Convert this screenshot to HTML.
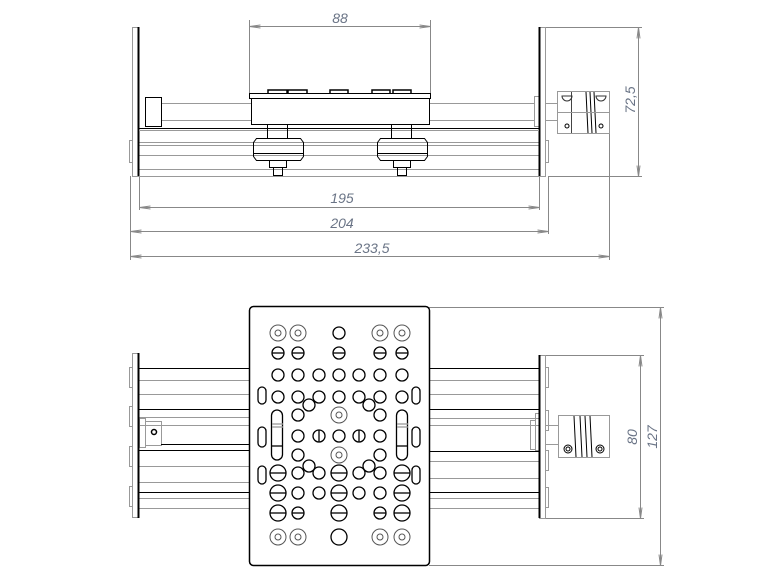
<!DOCTYPE html>
<html><head><meta charset="utf-8"><style>
html,body{margin:0;padding:0;background:#fff;}
svg{display:block;}
text{font-family:"Liberation Sans",sans-serif;font-style:italic;fill:#6a7486;font-size:14px;}
</style></head><body>
<svg id="s" width="780" height="586" viewBox="0 0 780 586" xmlns="http://www.w3.org/2000/svg">
<defs>
<marker id="ar" markerWidth="12" markerHeight="6" refX="11" refY="3" orient="auto" markerUnits="userSpaceOnUse"><path d="M0,1.5 L11,3 L0,4.5" fill="none" stroke="#888" stroke-width="1"/></marker>
<marker id="al" markerWidth="12" markerHeight="6" refX="1" refY="3" orient="auto" markerUnits="userSpaceOnUse"><path d="M12,1.5 L1,3 L12,4.5" fill="none" stroke="#888" stroke-width="1"/></marker>
</defs>
<g fill="none" stroke="#888" stroke-width="1">
<line x1="249.5" y1="20" x2="249.5" y2="94"/><line x1="430.5" y1="20" x2="430.5" y2="94"/>
<line x1="249.5" y1="26.5" x2="430.5" y2="26.5" marker-start="url(#al)" marker-end="url(#ar)"/>
<line x1="545" y1="27.5" x2="642" y2="27.5"/><line x1="548" y1="176.5" x2="642" y2="176.5"/>
<line x1="638.5" y1="27.5" x2="638.5" y2="176.5" marker-start="url(#al)" marker-end="url(#ar)"/>
<line x1="130.5" y1="176" x2="130.5" y2="260"/><line x1="139.5" y1="176" x2="139.5" y2="210"/>
<line x1="539.5" y1="176" x2="539.5" y2="210"/><line x1="548.5" y1="176" x2="548.5" y2="234"/>
<line x1="609.5" y1="133" x2="609.5" y2="260"/>
<line x1="139.5" y1="207.5" x2="539.5" y2="207.5" marker-start="url(#al)" marker-end="url(#ar)"/>
<line x1="130.5" y1="231.5" x2="548.5" y2="231.5" marker-start="url(#al)" marker-end="url(#ar)"/>
<line x1="130.5" y1="256.5" x2="609.5" y2="256.5" marker-start="url(#al)" marker-end="url(#ar)"/>
<line x1="429" y1="307.5" x2="664" y2="307.5"/><line x1="429" y1="565.5" x2="664" y2="565.5"/>
<line x1="545" y1="355.5" x2="644" y2="355.5"/><line x1="545" y1="518.5" x2="644" y2="518.5"/>
<line x1="640.5" y1="355.5" x2="640.5" y2="518.5" marker-start="url(#al)" marker-end="url(#ar)"/>
<line x1="660.5" y1="307.5" x2="660.5" y2="565.5" marker-start="url(#al)" marker-end="url(#ar)"/>
</g>
<text x="340" y="23" text-anchor="middle">88</text>
<text x="342" y="203" text-anchor="middle">195</text>
<text x="342" y="228" text-anchor="middle">204</text>
<text x="372" y="253" text-anchor="middle">233,5</text>
<text transform="translate(635,100) rotate(-90)" text-anchor="middle">72,5</text>
<text transform="translate(637,437) rotate(-90)" text-anchor="middle">80</text>
<text transform="translate(657,437) rotate(-90)" text-anchor="middle">127</text>

<g fill="none" stroke="#999" stroke-width="1">
<rect x="132.5" y="27.5" width="6" height="149"/>
<rect x="539.5" y="27.5" width="6" height="149"/>
<rect x="129.5" y="140.5" width="3" height="22"/>
<rect x="545.5" y="140.5" width="3" height="22"/>
<line x1="139" y1="142.5" x2="539" y2="142.5"/><line x1="139" y1="145.5" x2="539" y2="145.5"/>
<line x1="139" y1="155.5" x2="539" y2="155.5"/><line x1="139" y1="169.5" x2="539" y2="169.5"/>
<line x1="139" y1="176.5" x2="539" y2="176.5"/>
<line x1="161" y1="103.5" x2="251" y2="103.5"/><line x1="161" y1="120.5" x2="251" y2="120.5"/>
<line x1="429" y1="103.5" x2="534" y2="103.5"/><line x1="429" y1="120.5" x2="534" y2="120.5"/>
<rect x="534.5" y="96.5" width="5" height="30"/>
<rect x="545.5" y="103.5" width="12" height="17"/>
<rect x="557.5" y="91.5" width="52" height="42"/>
</g>
<g fill="none" stroke="#000" stroke-width="1">
<line x1="138.5" y1="27" x2="138.5" y2="176" stroke-width="2"/>
<line x1="539.5" y1="27" x2="539.5" y2="176" stroke-width="2"/>
<line x1="139" y1="128.5" x2="539" y2="128.5"/>
<rect x="145.5" y="97.5" width="16" height="29"/>
<line x1="139" y1="130.5" x2="539" y2="130.5" stroke="#999"/>
<rect x="249.5" y="93.5" width="181" height="5"/>
<rect x="251.5" y="98.5" width="178" height="26"/>
<g stroke-width="1.5">
<path d="M268,93 v-3 h19 v3 M288,93 v-3 h19 v3 M330,93 v-3 h18 v3 M372,93 v-3 h18 v3 M393,93 v-3 h18 v3"/>
</g>
<rect x="267.5" y="124.5" width="20" height="14"/>
<rect x="391.5" y="124.5" width="20" height="14"/>
<path d="M256.5,138.5 h44 l3,4 v14 l-3,4 h-44 l-3,-4 v-14 z"/>
<path d="M380.5,138.5 h44 l3,4 v14 l-3,4 h-44 l-3,-4 v-14 z"/>
<line x1="253" y1="153.5" x2="304" y2="153.5"/><line x1="377" y1="153.5" x2="428" y2="153.5"/>
<rect x="269.5" y="160.5" width="17" height="7"/><rect x="273.5" y="167.5" width="9" height="8"/>
<rect x="393.5" y="160.5" width="17" height="7"/><rect x="397.5" y="167.5" width="9" height="8"/>
<line x1="571.5" y1="92" x2="571.5" y2="133" stroke="#444"/>
<path d="M586,92 l2,41 M590,92 l2,41 M594,92 l2,41" stroke="#000"/>
<line x1="557" y1="112.5" x2="609" y2="112.5" stroke="#999"/>
<path d="M562,96 h10 a5,5 0 0 1 -10,0 z M596,96 h10 a5,5 0 0 1 -10,0 z" stroke="#333"/>
<circle cx="567" cy="126" r="2"/><circle cx="601" cy="126" r="2"/>
</g>

<g fill="none" stroke="#999" stroke-width="1">
<rect x="132.5" y="353.5" width="6" height="164"/>
<rect x="539.5" y="355.5" width="6" height="163"/>
<rect x="129.5" y="367.5" width="3" height="20"/><rect x="129.5" y="406.5" width="3" height="20"/>
<rect x="129.5" y="446.5" width="3" height="20"/><rect x="129.5" y="486.5" width="3" height="20"/>
<rect x="545.5" y="367.5" width="3" height="20"/><rect x="545.5" y="410.5" width="3" height="20"/>
<rect x="545.5" y="450.5" width="3" height="20"/><rect x="545.5" y="487.5" width="3" height="20"/>
<line x1="139" y1="380.5" x2="249" y2="380.5"/><line x1="139" y1="394.5" x2="249" y2="394.5"/>
<line x1="139" y1="417.5" x2="249" y2="417.5"/><line x1="139" y1="425.5" x2="249" y2="425.5"/>
<line x1="139" y1="466.5" x2="249" y2="466.5"/><line x1="139" y1="482.5" x2="249" y2="482.5"/>
<line x1="139" y1="498.5" x2="249" y2="498.5"/><line x1="139" y1="508.5" x2="249" y2="508.5"/>
<line x1="429" y1="380.5" x2="539" y2="380.5"/><line x1="429" y1="394.5" x2="539" y2="394.5"/>
<line x1="429" y1="418.5" x2="539" y2="418.5"/><line x1="429" y1="425.5" x2="539" y2="425.5"/>
<line x1="429" y1="461.5" x2="539" y2="461.5"/><line x1="429" y1="478.5" x2="539" y2="478.5"/>
<line x1="429" y1="498.5" x2="539" y2="498.5"/><line x1="429" y1="508.5" x2="539" y2="508.5"/>
<rect x="139.5" y="418.5" width="6" height="29"/>
<rect x="145.5" y="421.5" width="16" height="24"/>
<rect x="530.5" y="420.5" width="5" height="29"/><rect x="535.5" y="413.5" width="4" height="37"/>
<rect x="545.5" y="425.5" width="13" height="19"/>
<rect x="558.5" y="415.5" width="51" height="42"/>
</g>
<g fill="none" stroke="#000" stroke-width="1">
<line x1="138.5" y1="353" x2="138.5" y2="518" stroke-width="2"/>
<line x1="539.5" y1="355" x2="539.5" y2="518" stroke-width="2"/>
<path d="M139,368.5 H249 M139,409.5 H249 M139,450.5 H249 M139,492.5 H249 M429,368.5 H539 M429,409.5 H539 M429,451.5 H539 M429,492.5 H539"/>
<line x1="161" y1="444.5" x2="249" y2="444.5"/>
<circle cx="154" cy="432" r="2.5" stroke-width="1.5"/>
<path d="M574,416 l2,41 M580,416 l2,41 M585,416 l2,41 M590,416 l2,41"/>
<circle cx="568" cy="449" r="4"/><circle cx="568" cy="449" r="2"/>
<circle cx="600" cy="449" r="4"/><circle cx="600" cy="449" r="2"/>
<rect x="249.5" y="306.5" width="180" height="259" rx="4" fill="#fff" stroke-width="1.5"/>
<g id="holes" stroke-width="1.3"></g>
</g>
</svg>
<script>
var g=document.getElementById('holes'),ns='http://www.w3.org/2000/svg';
function el(t,a){var e=document.createElementNS(ns,t);for(var k in a)e.setAttribute(k,a[k]);g.appendChild(e);return e;}
function c(x,y,r,m){r=r||6;el('circle',{cx:x,cy:y,r:r});if(m=='h')el('line',{x1:x-r,y1:y,x2:x+r,y2:y});if(m=='v')el('line',{x1:x,y1:y-r,x2:x,y2:y+r});}
function cc(x,y){el('circle',{cx:x,cy:y,r:8,'stroke-width':1,stroke:'#555'});el('circle',{cx:x,cy:y,r:3,'stroke-width':1,stroke:'#555'});}
function slot(x,y1,y2,w){el('rect',{x:x-w/2,y:y1,width:w,height:y2-y1,rx:w/2});}
var X=[278,298,319,339,359,380,402];
[278,298,380,402].forEach(function(x){cc(x,333);cc(x,537);});
c(339,333);c(339,537,8);
[278,298,339,380,402].forEach(function(x){c(x,353,6,'h');});
X.forEach(function(x){c(x,375);c(x,397);});
slot(262,387,404,8);slot(416,387,404,8);
c(309,405);c(369,405);
c(298,415);c(380,415);cc(339,415);
slot(277,410,460,11);slot(402,410,460,11);
el('line',{x1:272,y1:424,x2:283,y2:424,stroke:'#999'});el('line',{x1:272,y1:427,x2:283,y2:427,stroke:'#999'});el('line',{x1:272,y1:446,x2:283,y2:446});
el('line',{x1:397,y1:424,x2:408,y2:424,stroke:'#999'});el('line',{x1:397,y1:427,x2:408,y2:427,stroke:'#999'});el('line',{x1:397,y1:446,x2:408,y2:446});
c(298,436);c(319,436,6,'v');c(339,436);c(359,436,6,'v');c(380,436);
slot(262,427,447,8);slot(416,427,447,8);
c(298,455);cc(339,455);c(380,455);
c(309,466);c(369,466);
slot(262,466,484,8);slot(416,466,484,8);
[473,493].forEach(function(y){c(278,y,8,'h');c(339,y,8,'h');c(402,y,8,'h');c(298,y);c(319,y);c(359,y);c(380,y);});
c(278,513,8,'h');c(339,513,8,'h');c(402,513,8,'h');c(298,513,6,'h');c(380,513,6,'h');
</script>
</body></html>
